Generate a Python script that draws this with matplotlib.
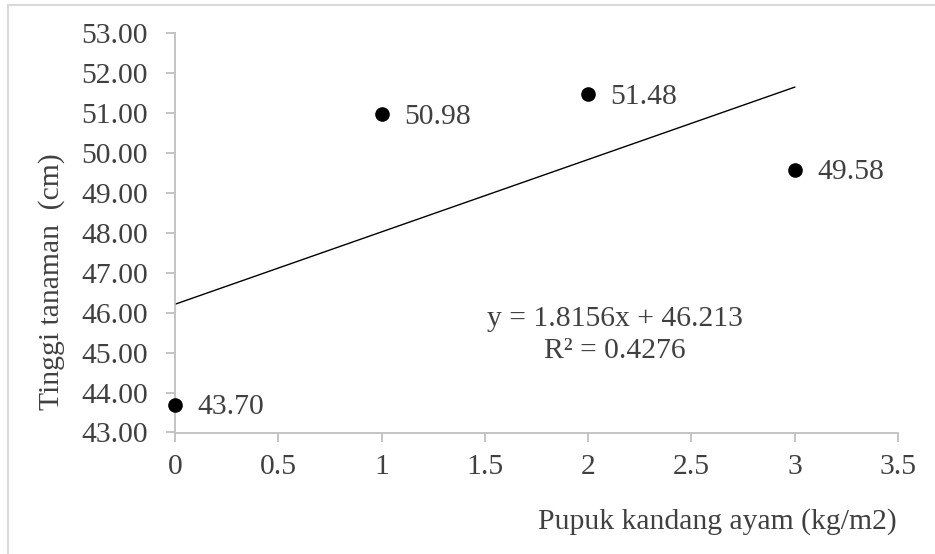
import numpy as np
import matplotlib
matplotlib.use("Agg")
import matplotlib.pyplot as plt
from matplotlib.patches import Rectangle

# Data
x_vals = [0, 1, 2, 3]
y_vals = [43.70, 50.98, 51.48, 49.58]
point_labels = ["43.70", "50.98", "51.48", "49.58"]
x_ticks = [0, 0.5, 1, 1.5, 2, 2.5, 3, 3.5]
x_tick_labels = ["0", "0.5", "1", "1.5", "2", "2.5", "3", "3.5"]
y_ticks = [43, 44, 45, 46, 47, 48, 49, 50, 51, 52, 53]
y_tick_labels = [f"{v:.2f}" for v in y_ticks]
x_label = "Pupuk kandang ayam (kg/m2)"
y_label = "Tinggi tanaman  (cm)"
eq_text = "y = 1.8156x + 46.213\nR² = 0.4276"

plt.rcParams['font.family'] = ['Liberation Serif', 'DejaVu Serif']
FS = 21.3
TXT = '#404040'
AX = '#bfbfbf'

W, H = 935, 554
fig = plt.figure(figsize=(W / 100, H / 100), dpi=100)
fig.patch.set_facecolor('white')

# outer chart border
fig.add_artist(Rectangle((8 / W, -0.1), 1.2, (1 - 5 / H) + 0.1, transform=fig.transFigure,
                         fill=False, edgecolor='#d9d9d9', linewidth=1.5))

left, right = 175 / W, 898 / W
top, bottom = 1 - 33.5 / H, 1 - 432.5 / H
ax = fig.add_axes([left, bottom, right - left, top - bottom])
ax.set_xlim(0, 3.5)
ax.set_ylim(43, 53)

for s in ['top', 'right']:
    ax.spines[s].set_visible(False)
for s in ['left', 'bottom']:
    ax.spines[s].set_color(AX)
    ax.spines[s].set_linewidth(1.3)

ax.set_xticks(x_ticks)
ax.set_xticklabels(x_tick_labels)
ax.set_yticks(y_ticks)
ax.set_yticklabels(y_tick_labels)
ax.tick_params(axis='both', colors=AX, length=6.5, width=1.3, labelcolor=TXT, labelsize=FS)
ax.tick_params(axis='x', pad=9)
ax.tick_params(axis='y', pad=13)

# trendline
slope, intercept = np.polyfit(x_vals, y_vals, 1)
xt = np.array([min(x_vals), max(x_vals)])
ax.plot(xt, slope * xt + intercept, color='black', linewidth=1.0, zorder=2)

ax.plot(x_vals, y_vals, 'o', color='black', markersize=9.5, zorder=3, clip_on=False)

for xv, yv, lab in zip(x_vals, y_vals, point_labels):
    ax.annotate(lab, (xv, yv), xytext=(16, -1.8), textcoords='offset points',
                ha='left', va='center', fontsize=FS, color=TXT)

fig.text(615 / W, 1 - 335 / H, eq_text, ha='center', va='center', fontsize=FS,
         color=TXT, linespacing=1.35, multialignment='center')

fig.text(717 / W, 1 - 522 / H, x_label, ha='center', va='center', fontsize=FS, color=TXT)
fig.text(52 / W, 1 - 282 / H, y_label, ha='center', va='center', fontsize=FS,
         color=TXT, rotation=90)

fig.savefig('out.png', dpi=100)
